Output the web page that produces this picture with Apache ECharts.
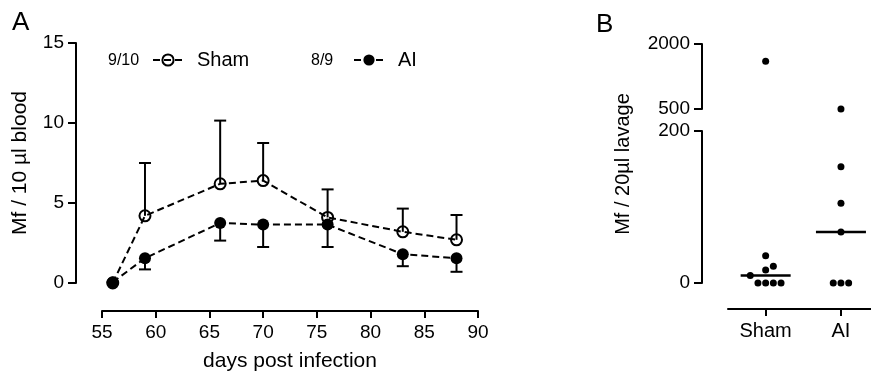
<!DOCTYPE html>
<html>
<head>
<meta charset="utf-8">
<script src="https://cdn.jsdelivr.net/npm/echarts@6/dist/echarts.min.js"></script>
<style>
html,body{margin:0;padding:0;background:#fff;}
#c{width:871px;height:376px;}
</style>
</head>
<body>
<div id="c"></div>
<script>
// ---- Panel A data ----
const days = [56, 59, 66, 70, 76, 83, 88];
const shamMean = [0, 4.2, 6.2, 6.4, 4.1, 3.2, 2.7];
const shamUpper = [null, 7.5, 10.15, 8.75, 5.85, 4.65, 4.25];
const aiMean = [0.05, 1.55, 3.75, 3.65, 3.65, 1.8, 1.55];
const aiLower = [null, 0.85, 2.65, 2.25, 2.25, 1.05, 0.7];
const shamLabel = 'Sham', aiLabel = 'AI';
const shamRatio = '9/10', aiRatio = '8/9';
const dayTicks = {min: 55, max: 90, interval: 5};
const mfTicks = {min: 0, max: 15, interval: 5};

// ---- Panel B data ----
const lavageCats = ['Sham', 'AI'];
const shamLavage = [0, 0, 0, 0, 10, 17, 22, 36, 1600];
const aiLavage = [0, 0, 0, 67, 105, 153, 500];
const lowSegment = {min: 0, max: 200, interval: 200};
const highSegment = {min: 500, max: 2000, interval: 1500};

const FONT = '"Liberation Sans", Arial, sans-serif';
const K = '#000';

function median(a) {
  const s = a.slice().sort((x, y) => x - y);
  const m = Math.floor(s.length / 2);
  return s.length % 2 ? s[m] : (s[m - 1] + s[m]) / 2;
}

const axisCommon = {
  axisLine: {show: true, onZero: false, lineStyle: {color: K, width: 2}},
  axisTick: {show: true, length: 8, lineStyle: {color: K, width: 2}},
  axisLabel: {color: K, fontSize: 19, fontFamily: FONT, margin: 12, formatter: v => String(v)},
  splitLine: {show: false}
};

const lowPts = [], highPts = [];
[shamLavage, aiLavage].forEach((arr, ci) => {
  arr.forEach(v => {
    (v > lowSegment.max ? highPts : lowPts).push({value: [lavageCats[ci], v], ci: ci});
  });
});

function errRender(params, api) {
  const x = api.value(0), m = api.value(1), b = api.value(2);
  const p1 = api.coord([x, m]), p2 = api.coord([x, b]);
  const st = {stroke: K, lineWidth: 2};
  return {type: 'group', children: [
    {type: 'line', shape: {x1: p1[0], y1: p1[1], x2: p2[0], y2: p2[1]}, style: st},
    {type: 'line', shape: {x1: p2[0] - 6, y1: p2[1], x2: p2[0] + 6, y2: p2[1]}, style: st}
  ]};
}
function medRender(params, api) {
  const p = api.coord([api.value(0), api.value(1)]);
  return {type: 'line', shape: {x1: p[0] - 25, y1: p[1], x2: p[0] + 25, y2: p[1]},
    style: {stroke: K, lineWidth: 2.5}};
}

const option = {
  animation: false,
  textStyle: {fontFamily: FONT, color: K},
  grid: [
    {left: 102, top: 43, width: 376, height: 240, containLabel: false, outerBoundsMode: 'none'},
    {left: 728, top: 44, width: 150.6, height: 65, containLabel: false, outerBoundsMode: 'none'},
    {left: 728, top: 131, width: 150.6, height: 152, containLabel: false, outerBoundsMode: 'none'}
  ],
  xAxis: [
    Object.assign({}, axisCommon, {gridIndex: 0, type: 'value', min: dayTicks.min, max: dayTicks.max,
      interval: dayTicks.interval, offset: 28, axisTick: {show: true, length: 7, lineStyle: {color: K, width: 2}},
      name: 'days post infection', nameLocation: 'middle', nameGap: 40,
      nameTextStyle: {fontSize: 21, color: K, fontFamily: FONT}}),
    {gridIndex: 1, type: 'category', data: lavageCats, show: false},
    Object.assign({}, axisCommon, {gridIndex: 2, type: 'category', data: lavageCats, offset: 26,
      axisTick: {show: true, length: 7, alignWithLabel: true, lineStyle: {color: K, width: 2}},
      axisLabel: {color: K, fontSize: 20, fontFamily: FONT, margin: 12}})
  ],
  yAxis: [
    Object.assign({}, axisCommon, {gridIndex: 0, type: 'value', min: mfTicks.min, max: mfTicks.max,
      interval: mfTicks.interval, offset: 26,
      name: 'Mf / 10 µl blood', nameLocation: 'middle', nameGap: 45,
      nameTextStyle: {fontSize: 21, color: K, fontFamily: FONT}}),
    Object.assign({}, axisCommon, {gridIndex: 1, type: 'value', min: highSegment.min, max: highSegment.max,
      interval: highSegment.interval, offset: 26}),
    Object.assign({}, axisCommon, {gridIndex: 2, type: 'value', min: lowSegment.min, max: lowSegment.max,
      interval: lowSegment.interval, offset: 26})
  ],
  legend: [
    {data: [shamLabel], left: 152, top: 50, padding: 0, itemWidth: 30, itemHeight: 14, itemGap: 0,
      textStyle: {fontSize: 20, color: K, fontFamily: FONT, padding: [0, 0, 0, 9]}},
    {data: [aiLabel], left: 353, top: 50, padding: 0, itemWidth: 30, itemHeight: 14, itemGap: 0,
      textStyle: {fontSize: 20, color: K, fontFamily: FONT, padding: [0, 0, 0, 9]}}
  ],
  graphic: [
    {type: 'text', left: 12, top: 10, style: {text: 'A', font: '26px ' + FONT, fill: K}},
    {type: 'text', left: 596, top: 12, style: {text: 'B', font: '26px ' + FONT, fill: K}},
    {type: 'text', left: 108, top: 53, style: {text: shamRatio, font: '16px ' + FONT, fill: K}},
    {type: 'text', left: 311, top: 53, style: {text: aiRatio, font: '16px ' + FONT, fill: K}},
    {type: 'text', x: 623, y: 164, rotation: Math.PI / 2,
      style: {text: 'Mf / 20µl lavage', font: '20px ' + FONT, fill: K, align: 'center', verticalAlign: 'middle'}}
  ],
  series: [
    {type: 'custom', name: 'shamErr', xAxisIndex: 0, yAxisIndex: 0, z: 1, renderItem: errRender,
      data: days.map((d, i) => [d, shamMean[i], shamUpper[i]]).filter(r => r[2] != null)},
    {type: 'custom', name: 'aiErr', xAxisIndex: 0, yAxisIndex: 0, z: 1, renderItem: errRender,
      data: days.map((d, i) => [d, aiMean[i], aiLower[i]]).filter(r => r[2] != null)},
    {type: 'line', name: shamLabel, xAxisIndex: 0, yAxisIndex: 0, z: 3,
      data: days.map((d, i) => [d, shamMean[i]]),
      symbol: 'circle', symbolSize: 11, showAllSymbol: true,
      lineStyle: {color: K, width: 2, type: [7, 4]},
      itemStyle: {color: 'rgba(255,255,255,0)', borderColor: K, borderWidth: 2}},
    {type: 'line', name: aiLabel, xAxisIndex: 0, yAxisIndex: 0, z: 4,
      data: days.map((d, i) => [d, aiMean[i]]),
      symbol: 'circle', symbolSize: 12, showAllSymbol: true,
      lineStyle: {color: K, width: 2, type: [7, 4]},
      itemStyle: {color: K, borderColor: K, borderWidth: 0}},
    {type: 'scatter', name: 'lavHigh', xAxisIndex: 1, yAxisIndex: 1, symbolSize: 7,
      itemStyle: {color: K, opacity: 1}, data: highPts.map(p => ({value: p.value}))},
    {type: 'scatter', name: 'lavLow', xAxisIndex: 2, yAxisIndex: 2, symbolSize: 7,
      itemStyle: {color: K, opacity: 1}, data: lowPts.map(p => ({value: p.value}))},
    {type: 'custom', name: 'median', xAxisIndex: 2, yAxisIndex: 2, renderItem: medRender,
      data: [[lavageCats[0], median(shamLavage)], [lavageCats[1], median(aiLavage)]]}
  ]
};

const chart = echarts.init(document.getElementById('c'), null, {renderer: 'canvas'});
chart.setOption(option);

// simple beeswarm layout in pixel space so dots do not overlap
function swarm(pts, axisIdx) {
  const sp = 7.7;
  const order = [0, 1, -1, 2, -2, 3, -3, 4, -4];
  const placed = [];
  return pts.map(p => {
    const px = chart.convertToPixel({xAxisIndex: axisIdx, yAxisIndex: axisIdx}, p.value);
    let chosen = 0;
    for (const k of order) {
      const x = px[0] + k * sp;
      const hit = placed.some(q => q.ci === p.ci && Math.hypot(q.x - x, q.y - px[1]) < sp - 0.05);
      if (!hit) { chosen = k; break; }
    }
    placed.push({x: px[0] + chosen * sp, y: px[1], ci: p.ci});
    return {value: p.value, symbolOffset: [chosen * sp, 0]};
  });
}
chart.setOption({series: [
  {name: 'lavHigh', data: swarm(highPts, 1)},
  {name: 'lavLow', data: swarm(lowPts, 2)}
]});
</script>
</body>
</html>
